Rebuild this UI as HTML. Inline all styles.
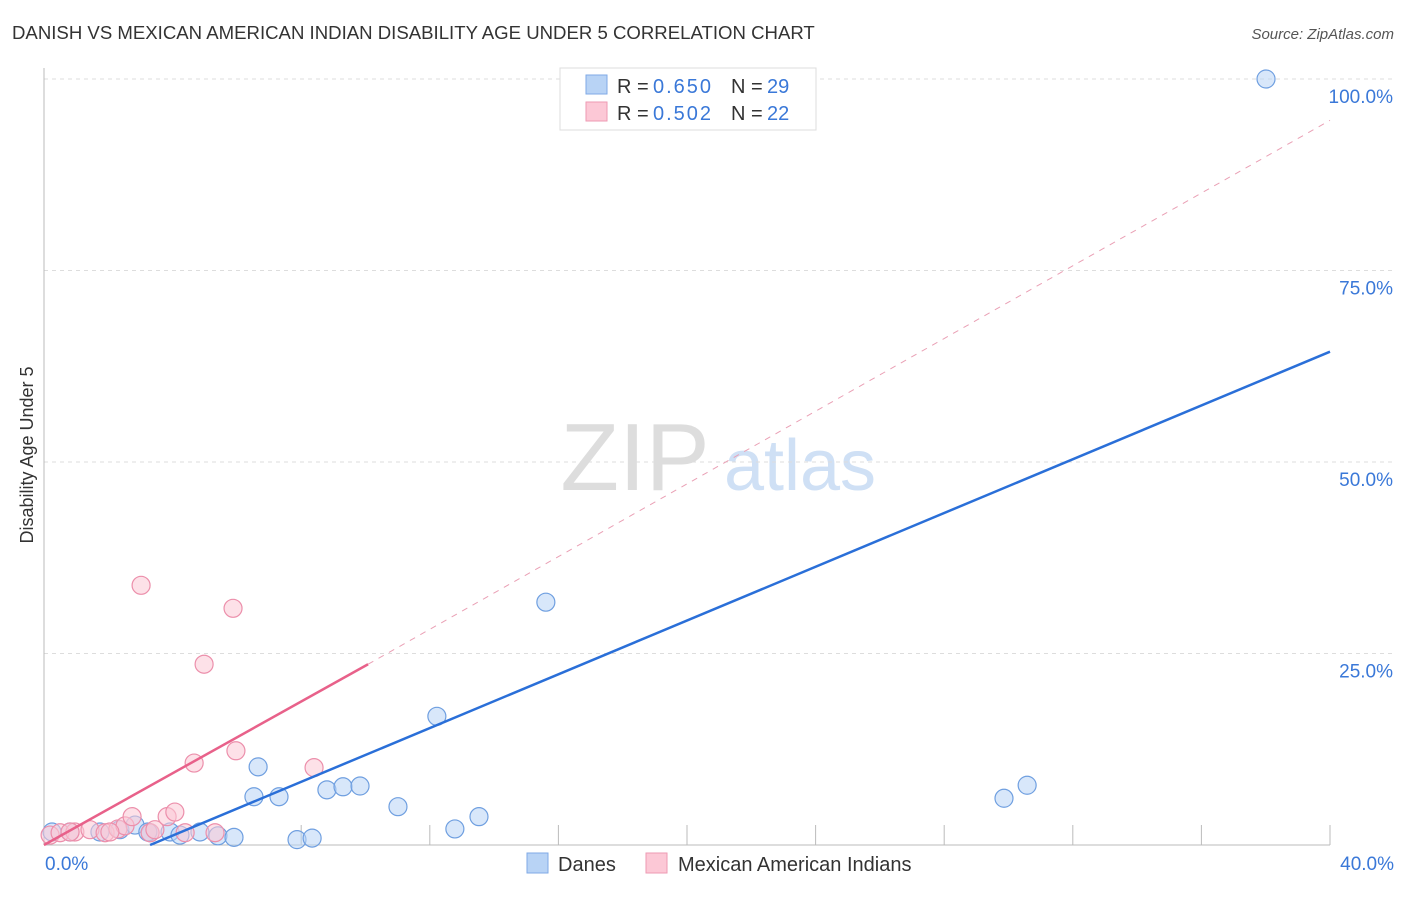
<!DOCTYPE html>
<html><head><meta charset="utf-8"><style>
body{margin:0;background:#fff;font-family:"Liberation Sans",sans-serif}
svg text{font-family:"Liberation Sans",sans-serif}
</style></head><body>
<svg width="1406" height="892" xmlns="http://www.w3.org/2000/svg">
<text x="12" y="39" font-size="18.6" fill="#333">DANISH VS MEXICAN AMERICAN INDIAN DISABILITY AGE UNDER 5 CORRELATION CHART</text>
<text x="1394" y="39" font-size="15" fill="#555" font-style="italic" text-anchor="end">Source: ZipAtlas.com</text>
<text x="635" y="490" font-size="96" fill="#ddd" font-family="Liberation Serif" text-anchor="middle">ZIP</text>
<text x="800" y="490" font-size="72" fill="#cfe0f5" text-anchor="middle">atlas</text>
<g id="grid"></g>
<g id="axes"></g>
<g id="marks"></g>
<text transform="translate(33,455) rotate(-90)" font-size="18" fill="#333" text-anchor="middle">Disability Age Under 5</text>
<text x="45" y="870" font-size="19" fill="#3a78d8">0.0%</text>
<text x="1394" y="870" font-size="19" fill="#3a78d8" text-anchor="end">40.0%</text>
<g>
<rect x="560" y="68" width="256" height="62" fill="#fff" stroke="#ddd"/>
<rect x="586" y="75" width="21" height="19" fill="#b8d3f5" stroke="#7fa9e6"/>
<rect x="586" y="102" width="21" height="19" fill="#fcc8d6" stroke="#ee9ab3"/>
<text y="93" font-size="20" fill="#333"><tspan x="617">R =</tspan><tspan x="653" fill="#3a78d8" textLength="58">0.650</tspan><tspan x="731">N =</tspan><tspan x="767" fill="#3a78d8">29</tspan></text>
<text y="120" font-size="20" fill="#333"><tspan x="617">R =</tspan><tspan x="653" fill="#3a78d8" textLength="58">0.502</tspan><tspan x="731">N =</tspan><tspan x="767" fill="#3a78d8">22</tspan></text>
</g>
<g>
<rect x="527" y="853" width="21" height="20" fill="#b8d3f5" stroke="#7fa9e6"/>
<text x="558" y="871" font-size="20" fill="#333">Danes</text>
<rect x="646" y="853" width="21" height="20" fill="#fcc8d6" stroke="#ee9ab3"/>
<text x="678" y="871" font-size="20" fill="#333">Mexican American Indians</text>
</g>
</svg>
<script>
const yTicks=[25,50,75,100];
const yTickLabels=["25.0%","50.0%","75.0%","100.0%"];
const xTicks=[8,12,16,20,24,28,32,36,40];
const danesX=[0.25,0.81,1.74,2.36,2.83,3.30,3.92,4.23,4.85,5.41,5.91,6.66,6.53,7.31,7.87,8.34,8.80,9.30,9.83,11.01,12.22,12.78,13.53,15.61,29.86,30.58,38.01,21.71,3.23];
const danesY=[1.7,1.7,1.7,2.0,2.6,1.6,1.7,1.3,1.7,1.2,1.0,10.2,6.3,6.3,0.7,0.9,7.2,7.6,7.7,5.0,16.8,2.1,3.7,31.7,6.1,7.8,100,100,1.7];
const mexX=[0.19,0.5,0.96,1.43,1.9,2.3,2.52,2.74,3.02,3.3,3.45,3.83,4.07,4.39,4.67,4.98,5.88,5.97,8.4,0.81,2.05,5.32];
const mexY=[1.3,1.6,1.7,2.0,1.6,2.1,2.5,3.7,33.9,1.6,2.0,3.7,4.3,1.6,10.7,23.6,30.9,12.3,10.1,1.7,1.7,1.6];
const danesTrend=[[3.3,0],[40,64.4]];
const mexTrend=[[0,0],[10.08,23.6]];
const mexTrendExt=[[10.08,23.6],[40,94.6]];
const X=v=>44+v*32.15, Y=v=>845-v*7.66;
const NS="http://www.w3.org/2000/svg";
function mk(t,a,p){const e=document.createElementNS(NS,t);for(const k in a)e.setAttribute(k,a[k]);p.appendChild(e);return e;}
const grid=document.getElementById('grid'),axes=document.getElementById('axes'),marks=document.getElementById('marks');
yTicks.forEach((t,i)=>{
 const l=mk('line',{x1:44,x2:1394,y1:Y(t),y2:Y(t),stroke:'#ddd','stroke-dasharray':'4,4'},grid);
 
 
 const tx=mk('text',{x:1393,y:Y(t)+24,'font-size':19,fill:'#3a78d8','text-anchor':'end'},grid);
 tx.textContent=yTickLabels[i];
 
 
});
const ya=mk('line',{x1:44,x2:44,y1:68,y2:845,stroke:'#bbb'},axes);


const xa=mk('line',{x1:44,x2:1330,y1:845,y2:845,stroke:'#bbb'},axes);


xTicks.forEach(t=>{
 const l=mk('line',{x1:X(t),x2:X(t),y1:825,y2:845,stroke:'#bbb'},axes);
 
 
});
function pts(xs,ys,fill,stroke,name){xs.forEach((x,i)=>{
 const c=mk('circle',{cx:X(x),cy:Y(ys[i]),r:9,fill:fill,'fill-opacity':0.55,stroke:stroke,'stroke-width':1.2},marks);
 
 
});}
pts(danesX,danesY,'#b8d3f5','#6f9fe0','danes-point');
pts(mexX,mexY,'#fcc8d6','#ec8fab','mexican-american-indians-point');
function ln(p,st,w,dash,name){const l=mk('line',{x1:X(p[0][0]),y1:Y(p[0][1]),x2:X(p[1][0]),y2:Y(p[1][1]),stroke:st,'stroke-width':w},marks);
 if(dash)l.setAttribute('stroke-dasharray',dash);
 
 }
ln(danesTrend,'#2a6fd8',2.5,null,'danes-trendline');
ln(mexTrend,'#e8618a',2.5,null,'mexican-trendline');
ln(mexTrendExt,'#eaa0b5',1,'6,6','mexican-trendline-extension');
</script>
</body></html>
